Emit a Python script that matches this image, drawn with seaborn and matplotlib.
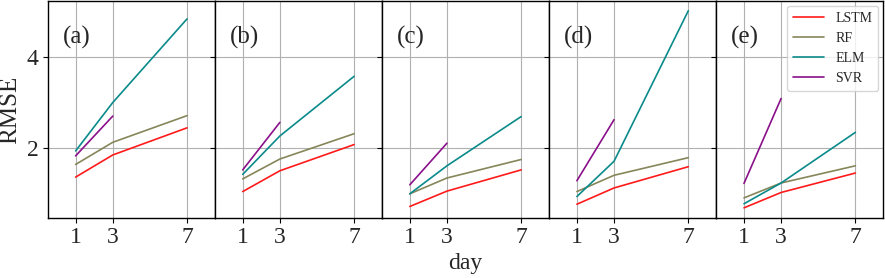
import numpy as np
import pandas as pd
import matplotlib
matplotlib.use("Agg")
import matplotlib.pyplot as plt
import seaborn as sns

days = [1, 3, 7]
panels = ["(a)", "(b)", "(c)", "(d)", "(e)"]
models = ["LSTM", "RF", "ELM", "SVR"]

lstm = [[1.35, 1.84, 2.44], [1.03, 1.49, 2.07], [0.70, 1.04, 1.51], [0.75, 1.11, 1.58], [0.67, 1.01, 1.44]]
rf   = [[1.63, 2.12, 2.71], [1.31, 1.75, 2.31], [0.98, 1.33, 1.74], [1.03, 1.39, 1.78], [0.89, 1.22, 1.60]]
elm  = [[1.93, 3.00, 4.85], [1.41, 2.26, 3.58], [0.98, 1.60, 2.69], [0.92, 1.70, 5.03], [0.76, 1.22, 2.34]]
svr  = [[1.82, 2.70], [1.51, 2.56], [1.18, 2.10], [1.27, 2.62], [1.21, 3.09]]

colors = {"LSTM": "#ff1a1a", "RF": "#86865a", "ELM": "#0a8a8a", "SVR": "#8a108a"}

rows = []
for i, p in enumerate(panels):
    for name, arr in zip(models, [lstm, rf, elm, svr]):
        for d, v in zip(days, arr[i]):
            rows.append({"panel": p, "model": name, "day": d, "RMSE": v})
df = pd.DataFrame(rows)

sns.set_style("white")
plt.rcParams["font.family"] = ["Liberation Serif", "DejaVu Serif"]

fig, axes = plt.subplots(1, 5, figsize=(8.85, 2.78), dpi=100, sharey=True)
fig.subplots_adjust(left=0.054, right=0.998, top=0.997, bottom=0.215, wspace=0)

for i, (ax, p) in enumerate(zip(axes, panels)):
    sub = df[df.panel == p]
    sns.lineplot(data=sub, x="day", y="RMSE", hue="model", hue_order=models,
                 palette=colors, ax=ax, linewidth=1.2, legend=(i == 4))
    ax.set_xlim(-0.5, 8.5)
    ax.set_ylim(0.44, 5.25)
    ax.set_xticks(days)
    ax.set_yticks([2, 4])
    ax.grid(True, color="#b0b0b0", linewidth=0.8)
    ax.set_axisbelow(True)
    ax.tick_params(axis="both", direction="out", labelsize=17, length=3.5,
                   width=0.8, left=True, bottom=True, color="black")
    ax.tick_params(axis="x", pad=3)
    ax.tick_params(axis="y", pad=3)
    for s in ax.spines.values():
        s.set_color("black")
        s.set_linewidth(1.0)
    ax.set_xlabel("")
    ax.set_ylabel("")
    ax.text(0.09, 0.83, p, transform=ax.transAxes, fontsize=18, va="center", ha="left")

axes[0].set_ylabel("RMSE", fontsize=18, labelpad=4)
leg = axes[4].legend(loc="upper right", fontsize=10, frameon=True, fancybox=True,
                     borderpad=0.45, labelspacing=0.5, handlelength=2.2,
                     handletextpad=0.8, borderaxespad=0.35)
leg.get_frame().set_edgecolor("#cccccc")
fig.text(0.526, 0.015, "day", ha="center", va="bottom", fontsize=17)

fig.savefig("out.png", dpi=100)
